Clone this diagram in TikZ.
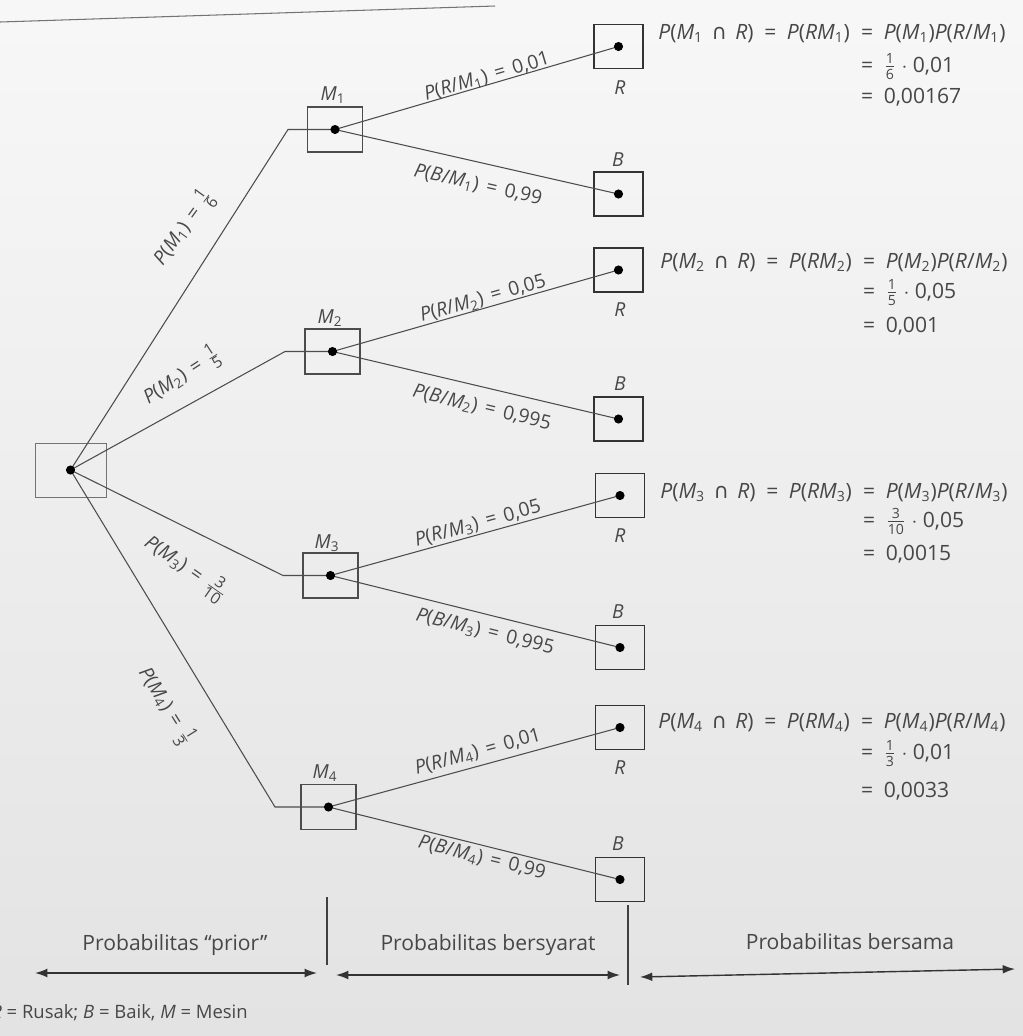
\documentclass[tikz,border=0pt]{standalone}
\usepackage{fontspec}
\setmainfont{Open Sans}
\newfontfamily\dvs{DejaVu Sans}
\usetikzlibrary{calc,arrows.meta}
\newcommand\itx[1]{\textit{#1}}
\newcommand\sbs[1]{\textsubscript{#1}}
\newcommand\myfr[2]{\ensuremath{\frac{\mbox{\fontsize{8}{8}\selectfont #1}}{\mbox{\fontsize{8}{8}\selectfont #2}}}}
\newcommand\bigfr[2]{\ensuremath{\frac{\mbox{\fontsize{9}{9}\selectfont #1}}{\mbox{\fontsize{9}{9}\selectfont #2}}}}
\newcommand\eqs{\hspace{0.4em}=\hspace{0.4em}}
\newcommand\feq{\hspace{0.5em}=\hspace{0.5em}}
\newcommand\isect{\hspace{0.4em}{\dvs ∩}\hspace{0.4em}}
\begin{document}
\begin{tikzpicture}[x=0.02cm,y=-0.02cm,
  every node/.style={text=black!72},
  bxroot/.style={draw=black!55,line width=0.5pt,minimum width=1.42cm,minimum height=1.08cm,inner sep=0pt},
  bxm/.style={draw=black!70,line width=0.6pt,minimum width=1.1cm,minimum height=0.9cm,inner sep=0pt},
  bxo/.style={draw=black!80,line width=0.7pt,minimum width=0.98cm,minimum height=0.88cm,inner sep=0pt},
  conn/.style={draw=black!70,line width=0.6pt},
  lb/.style={font=\fontsize{11}{13}\selectfont,inner sep=1pt},
  fm/.style={font=\fontsize{12}{14}\selectfont,inner sep=0pt,anchor=base west},
  bt/.style={font=\fontsize{12}{14}\selectfont,inner sep=1pt},
  dbl/.style={{Latex[length=7pt,width=5pt]}-{Latex[length=7pt,width=5pt]},draw=black!80,line width=0.8pt},
  sep/.style={draw=black!75,line width=0.6pt}
]
\shade[top color=black!3,bottom color=black!11] (0,0) rectangle (1023,1036);
\useasboundingbox (0,0) rectangle (1023,1036);
\draw[black!55,line width=0.6pt] (0,22) -- (495,6);

% boxes
\node[bxroot] (root) at (70.5,470) {};
\node[bxm] (m1) at (335,129.5) {};
\node[bxm] (m2) at (332.5,351.5) {};
\node[bxm] (m3) at (330.5,575.5) {};
\node[bxm] (m4) at (328.5,807) {};
\node[bxo] (r1) at (618.5,46.5) {};
\node[bxo] (b1) at (618.5,194) {};
\node[bxo] (r2) at (618.5,270) {};
\node[bxo] (b2) at (618.5,419) {};
\node[bxo] (r3) at (620,495.5) {};
\node[bxo] (b3) at (620,647.5) {};
\node[bxo] (r4) at (620,727.5) {};
\node[bxo] (b4) at (620,879.5) {};

% prior branches
\draw[conn] (root.center) -- ([xshift=-0.94cm]m1.center) -- (m1.center);
\draw[conn] (root.center) -- ([xshift=-0.95cm]m2.center) -- (m2.center);
\draw[conn] (root.center) -- ([xshift=-0.95cm]m3.center) -- (m3.center);
\draw[conn] (root.center) -- ([xshift=-1.07cm]m4.center) -- (m4.center);

% conditional branches
\draw[conn] (m1.center) -- (r1.center);
\draw[conn] (m1.center) -- (b1.center);
\draw[conn] (m2.center) -- (r2.center);
\draw[conn] (m2.center) -- (b2.center);
\draw[conn] (m3.center) -- (r3.center);
\draw[conn] (m3.center) -- (b3.center);
\draw[conn] (m4.center) -- (r4.center);
\draw[conn] (m4.center) -- (b4.center);

% dots
\foreach \n in {root,m1,m2,m3,m4,r1,b1,r2,b2,r3,b3,r4,b4}
  \fill[black] (\n.center) circle (2.6pt);

% node labels
\node[lb] (lm1) at (333,95) {\itx{M}\sbs{1}};
\node[lb] (lm2) at (330,318) {\itx{M}\sbs{2}};
\node[lb] (lm3) at (327,543) {\itx{M}\sbs{3}};
\node[lb] (lm4) at (325,773) {\itx{M}\sbs{4}};
\node[lb] (lr1) at (620,88) {\itx{R}};
\node[lb] (lr2) at (620,310) {\itx{R}};
\node[lb] (lr3) at (620,536) {\itx{R}};
\node[lb] (lr4) at (620,768) {\itx{R}};
\node[lb] (lb1) at (618,160) {\itx{B}};
\node[lb] (lb2) at (620,384) {\itx{B}};
\node[lb] (lb3) at (618,612) {\itx{B}};
\node[lb] (lb4) at (618,844) {\itx{B}};

% prior labels
\node[lb,rotate=54] (p1) at (184,228) {\itx{P}(\itx{M}\sbs{1})\eqs\bigfr{1}{6}};
\node[lb,rotate=33] (p2) at (182,376) {\itx{P}(\itx{M}\sbs{2})\eqs\bigfr{1}{5}};
\node[lb,rotate=-35] (p3) at (186,568) {\itx{P}(\itx{M}\sbs{3})\eqs\bigfr{3}{10}};
\node[lb,rotate=-58] (p4) at (166,706) {\itx{P}(\itx{M}\sbs{4})\eqs\bigfr{1}{3}};

% conditional labels
\node[lb,rotate=16.5] (c1) at (487,77) {\itx{P}(\itx{R}/\itx{M}\sbs{1})\eqs 0,01};
\node[lb,rotate=-12.7] (d1) at (478,185) {\itx{P}(\itx{B}/\itx{M}\sbs{1})\eqs 0,99};
\node[lb,rotate=15.8] (c2) at (483,299) {\itx{P}(\itx{R}/\itx{M}\sbs{2})\eqs 0,05};
\node[lb,rotate=-13.4] (d2) at (482,408) {\itx{P}(\itx{B}/\itx{M}\sbs{2})\eqs 0,995};
\node[lb,rotate=15.4] (c3) at (478,524) {\itx{P}(\itx{R}/\itx{M}\sbs{3})\eqs 0,05};
\node[lb,rotate=-14] (d3) at (485,632) {\itx{P}(\itx{B}/\itx{M}\sbs{3})\eqs 0,995};
\node[lb,rotate=15.3] (c4) at (478,752) {\itx{P}(\itx{R}/\itx{M}\sbs{4})\eqs 0,01};
\node[lb,rotate=-13.9] (d4) at (482,858) {\itx{P}(\itx{B}/\itx{M}\sbs{4})\eqs 0,99};

% joint probabilities
\node[fm] (f1a) at (658,39) {\itx{P}(\itx{M}\sbs{1}\isect\itx{R})\feq\itx{P}(\itx{RM}\sbs{1})};
\node[fm] (f1b) at (f1a.base east) {\feq\itx{P}(\itx{M}\sbs{1})\itx{P}(\itx{R}/\itx{M}\sbs{1})};
\node[fm] (f1c) at ([yshift=-0.66cm]f1b.base west) {\feq\myfr{1}{6} $\cdot$ 0,01};
\node[fm] (f1d) at ([yshift=-1.30cm]f1b.base west) {\feq 0,00167};

\node[fm] (f2a) at (660,268) {\itx{P}(\itx{M}\sbs{2}\isect\itx{R})\feq\itx{P}(\itx{RM}\sbs{2})};
\node[fm] (f2b) at (f2a.base east) {\feq\itx{P}(\itx{M}\sbs{2})\itx{P}(\itx{R}/\itx{M}\sbs{2})};
\node[fm] (f2c) at ([yshift=-0.60cm]f2b.base west) {\feq\myfr{1}{5} $\cdot$ 0,05};
\node[fm] (f2d) at ([yshift=-1.30cm]f2b.base west) {\feq 0,001};

\node[fm] (f3a) at (660,498) {\itx{P}(\itx{M}\sbs{3}\isect\itx{R})\feq\itx{P}(\itx{RM}\sbs{3})};
\node[fm] (f3b) at (f3a.base east) {\feq\itx{P}(\itx{M}\sbs{3})\itx{P}(\itx{R}/\itx{M}\sbs{3})};
\node[fm] (f3c) at ([yshift=-0.58cm]f3b.base west) {\feq\myfr{3}{10} $\cdot$ 0,05};
\node[fm] (f3d) at ([yshift=-1.26cm]f3b.base west) {\feq 0,0015};

\node[fm] (f4a) at (658,728) {\itx{P}(\itx{M}\sbs{4}\isect\itx{R})\feq\itx{P}(\itx{RM}\sbs{4})};
\node[fm] (f4b) at (f4a.base east) {\feq\itx{P}(\itx{M}\sbs{4})\itx{P}(\itx{R}/\itx{M}\sbs{4})};
\node[fm] (f4c) at ([yshift=-0.62cm]f4b.base west) {\feq\myfr{1}{3} $\cdot$ 0,01};
\node[fm] (f4d) at ([yshift=-1.40cm]f4b.base west) {\feq 0,0033};

% bottom scale
\coordinate (s1t) at (327,897); \coordinate (s1b) at (327,965);
\coordinate (s2t) at (628,905); \coordinate (s2b) at (628,985);
\draw[sep] (s1t) -- (s1b);
\draw[sep] (s2t) -- (s2b);
\coordinate (a1l) at (35,973); \coordinate (a1r) at (317,973);
\coordinate (a2l) at (336,975); \coordinate (a2r) at (620,975);
\coordinate (a3l) at (640,977); \coordinate (a3r) at (1015,969);
\draw[dbl] (a1l) -- (a1r);
\draw[dbl] (a2l) -- (a2r);
\draw[dbl] (a3l) -- (a3r);
\node[bt] (t1) at (175,945) {Probabilitas “prior”};
\node[bt] (t2) at (488,945) {Probabilitas bersyarat};
\node[bt] (t3) at (850,942) {Probabilitas bersama};

\node[font=\fontsize{10.5}{12}\selectfont,anchor=base west,inner sep=0pt] (leg) at (-9,1018) {\itx{R} = Rusak; \itx{B} = Baik, \itx{M} = Mesin};
\end{tikzpicture}
\end{document}
